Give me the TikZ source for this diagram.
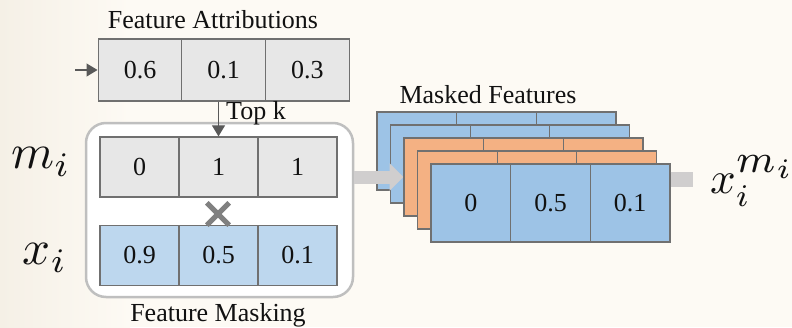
\documentclass[tikz,border=0pt]{standalone}
\usepackage{fontspec}
\setmainfont{Liberation Serif}
\usetikzlibrary{arrows.meta,calc}

\definecolor{bgcream}{HTML}{FDFAF4}
\definecolor{bgshade}{HTML}{F5F0E6}
\definecolor{cellline}{HTML}{707070}
\definecolor{cellgray}{HTML}{E7E7E7}
\definecolor{celllight}{HTML}{BDD7EE}
\definecolor{cellblue}{HTML}{9DC3E6}
\definecolor{cellorange}{HTML}{F4B183}
\definecolor{boxline}{HTML}{BFBFBF}
\definecolor{flowgray}{HTML}{D0CECE}
\definecolor{tipgray}{HTML}{595959}
\definecolor{crossgray}{HTML}{808080}
\definecolor{inkblack}{HTML}{111111}

\tikzset{
  cell/.style={draw=cellline, line width=1.3pt, inner sep=0pt,
    text=inkblack, font=\fontsize{26}{30}\selectfont},
  facell/.style={cell, fill=cellgray, minimum width=83.67pt, minimum height=62pt},
  rowcell/.style={cell, minimum width=79pt, minimum height=60pt},
  layercell/.style={cell, minimum width=79.67pt, minimum height=78pt},
  caption/.style={text=inkblack, font=\fontsize{26}{30}\selectfont, inner sep=0pt},
  mathlabel/.style={text=inkblack, inner sep=0pt},
  thinarrow/.style={draw=tipgray, line width=1.2pt,
    -{Triangle[length=11pt 0 0, width=13pt 0 0]}, fill=tipgray},
  flowarrow/.style={draw=flowgray, line width=13pt,
    -{Triangle[length=14pt 0 0, width=27pt 0 0]}},
  flowstub/.style={draw=flowgray, line width=15pt},
}

\begin{document}
\begin{tikzpicture}[x=1pt, y=-1pt]
  % page and background
  \useasboundingbox (0,0) rectangle (792,327);
  \fill[bgcream] (0,0) rectangle (792,327);
  \shade[left color=bgshade, right color=bgcream] (0,0) rectangle (130,327);

  % feature attributions row
  \node[caption] (fatitle) at (213,20) {Feature Attributions};
  \node[facell] (fa1) at (140,70) {0.6};
  \node[facell] (fa2) at (223.67,70) {0.1};
  \node[facell] (fa3) at (307.33,70) {0.3};
  \coordinate (fain) at (75,70);
  \draw[thinarrow] (fain) -- (fa1.west);

  % feature masking container
  \node[draw=boxline, line width=2.5pt, fill=white, rounded corners=20pt,
        minimum width=267pt, minimum height=174pt, inner sep=0pt] (fm) at (219.5,210) {};
  \node[caption, anchor=north] (fmtitle) at (218,303) {Feature Masking};

  % mask row
  \node[rowcell, fill=cellgray] (m1) at (139.5,167) {0};
  \node[rowcell, fill=cellgray] (m2) at (218.5,167) {1};
  \node[rowcell, fill=cellgray] (m3) at (297.5,167) {1};

  % input row
  \node[rowcell, fill=celllight] (x1) at (139.5,255.5) {0.9};
  \node[rowcell, fill=celllight] (x2) at (218.5,255.5) {0.5};
  \node[rowcell, fill=celllight] (x3) at (297.5,255.5) {0.1};

  % multiplication cross
  \node[inner sep=0pt, minimum size=22pt] (mult) at (218,214) {};
  \draw[crossgray, line width=5pt] (mult.north west) -- (mult.south east)
                                   (mult.north east) -- (mult.south west);

  % top-k selection arrow
  \draw[thinarrow] (m2.north |- fa2.south) -- (m2.north);
  \node[caption, anchor=west] (topk) at (226,113) {Top k};

  % row labels
  \node[mathlabel] (mlab) at (41,162) {\scalebox{4.9}{$m_i$}};
  \node[mathlabel] (xlab) at (45,258) {\scalebox{4.9}{$x_i$}};

  % stack of masked feature vectors
  \node[caption] (mftitle) at (488,95) {Masked Features};
  \foreach \k/\col in {1/cellblue, 2/cellblue, 3/cellorange, 4/cellorange, 5/cellblue} {
    \pgfmathsetmacro{\ox}{377+13.5*(\k-1)}
    \pgfmathsetmacro{\oy}{151+13*(\k-1)}
    \node[layercell, fill=\col] (L\k-1) at (\ox+39.83,\oy) {};
    \node[layercell, fill=\col] (L\k-2) at (\ox+119.5,\oy) {};
    \node[layercell, fill=\col] (L\k-3) at (\ox+199.17,\oy) {};
    \ifnum\k=2
      % flow from the masking block, passing under the orange layers
      \draw[flowarrow] (fm.east |- 0,177) -- (403.5,177) coordinate (flowtip);
    \fi
  }
  \node[caption] at (L5-1) {0};
  \node[caption] at (L5-2) {0.5};
  \node[caption] at (L5-3) {0.1};

  % output
  \coordinate (outstub) at (693,179);
  \draw[flowstub] (L5-3.east |- outstub) -- (outstub);
  \node[mathlabel] (xout) at (753,181) {\scalebox{4.5}{$x_i^{\scalebox{1.25}{$\scriptstyle m_i$}}$}};
\end{tikzpicture}
\end{document}
